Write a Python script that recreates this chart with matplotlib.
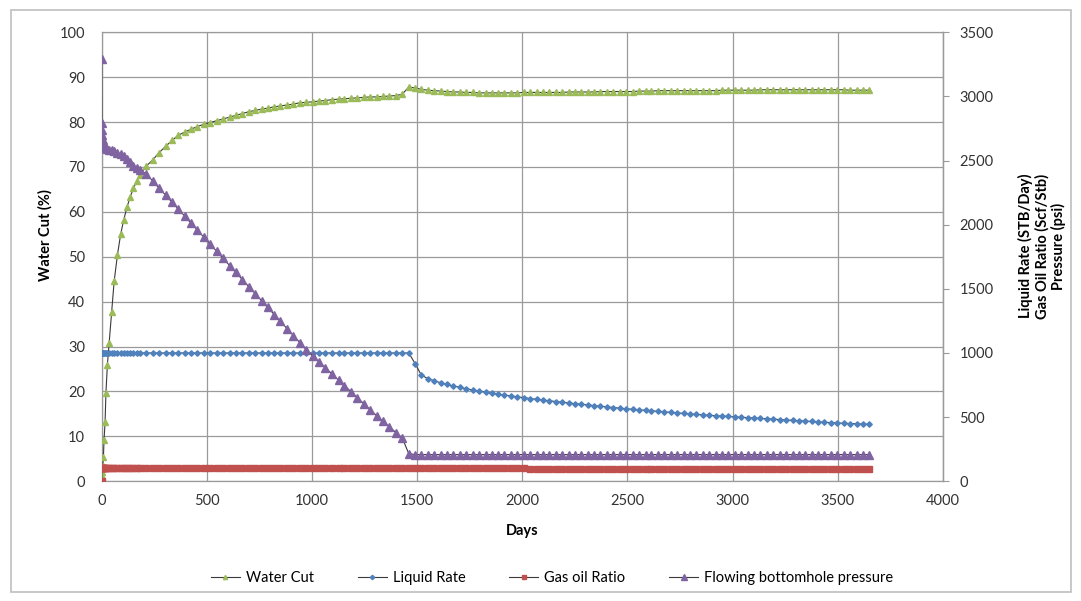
import matplotlib
matplotlib.use("Agg")
from matplotlib import pyplot as plt
from matplotlib.patches import Rectangle

plt.rcParams['font.family'] = ['Lato', 'DejaVu Sans']

# ---- data ----
days = [0, 1, 2, 3, 5, 8, 11, 16, 20, 27, 35, 47, 59, 75, 90, 105, 120, 135, 151, 166, 181,
        212, 243, 273, 304, 334, 365,
        396, 424, 455, 485, 516, 546, 577, 608, 638, 669, 699, 730,
        761, 789, 820, 850, 881, 911, 942, 973, 1003, 1034, 1064, 1095,
        1126, 1154, 1185, 1215, 1246, 1276, 1307, 1338, 1368, 1399, 1429, 1460,
        1491, 1519, 1550, 1580, 1611, 1641, 1672, 1703, 1733, 1764, 1794, 1825,
        1856, 1884, 1915, 1945, 1976, 2006, 2037, 2068, 2098, 2129, 2159, 2190,
        2221, 2249, 2280, 2310, 2341, 2371, 2402, 2433, 2463, 2494, 2524, 2555,
        2586, 2614, 2645, 2675, 2706, 2736, 2767, 2798, 2828, 2859, 2889, 2920,
        2951, 2979, 3010, 3040, 3071, 3101, 3132, 3163, 3193, 3224, 3254, 3285,
        3316, 3344, 3375, 3405, 3436, 3466, 3497, 3528, 3558, 3589, 3619, 3650]

water_cut = [0.0, 0.5, 1.2, 2.1, 3.5, 5.3, 9.2, 13.2, 19.7, 26.0, 30.7, 37.8, 44.5, 50.5, 55.0, 58.3, 61.0, 63.3, 65.3, 66.8, 68.3,
             70.2, 71.6, 73.2, 74.6, 75.9, 77.1,
             77.8, 78.4, 79.0, 79.5, 79.9, 80.3, 80.7, 81.1, 81.5, 81.9, 82.3, 82.6,
             82.9, 83.1, 83.4, 83.6, 83.8, 84.0, 84.3, 84.4, 84.5, 84.7, 84.8, 85.0,
             85.1, 85.2, 85.3, 85.4, 85.5, 85.6, 85.6, 85.7, 85.8, 85.9, 86.2, 87.8,
             87.6, 87.3, 87.1, 87.0, 86.9, 86.8, 86.7, 86.7, 86.6, 86.6, 86.5, 86.5,
             86.5, 86.5, 86.5, 86.5, 86.5, 86.6, 86.6, 86.6, 86.6, 86.6, 86.6, 86.6,
             86.7, 86.7, 86.7, 86.7, 86.7, 86.8, 86.8, 86.8, 86.8, 86.8, 86.8, 86.9,
             86.9, 86.9, 87.0, 87.0, 87.0, 87.0, 87.0, 87.0, 87.0, 87.0, 87.0, 87.0,
             87.1, 87.1, 87.1, 87.1, 87.1, 87.1, 87.2, 87.2, 87.2, 87.2, 87.2, 87.2,
             87.2, 87.2, 87.2, 87.2, 87.2, 87.2, 87.2, 87.2, 87.1, 87.1, 87.1, 87.1]

liquid_rate = [1000, 1000, 1000, 1000, 1000, 1000, 1000, 1000, 1000, 1000, 1000, 1000, 1000, 1000, 1000, 1000, 1000, 1000, 1000, 1000, 1000,
               1000, 1000, 1000, 1000, 1000, 1000,
               1000, 1000, 1000, 1000, 1000, 1000, 1000, 1000, 1000, 1000, 1000, 1000,
               1000, 1000, 1000, 1000, 1000, 1000, 1000, 1000, 1000, 1000, 1000, 1000,
               1000, 1000, 1000, 1000, 1000, 1000, 1000, 1000, 1000, 1000, 1000, 1000,
               915, 830, 800, 785, 768, 755, 743, 732, 722, 711, 702, 694,
               686, 679, 672, 665, 658, 651, 645, 639, 633, 627, 621, 615,
               610, 605, 600, 595, 590, 585, 580, 575, 570, 565, 561, 557,
               553, 549, 545, 541, 537, 533, 529, 525, 521, 518, 514, 511,
               508, 505, 502, 499, 496, 493, 490, 487, 484, 481, 478, 475,
               472, 469, 466, 463, 460, 457, 455, 452, 450, 448, 446, 444]

gas_oil_ratio = [0, 104, 104, 104, 104, 104, 104, 104, 104, 104, 104, 104, 104, 104, 104, 104, 104, 104, 104, 104, 104,
                 104, 104, 104, 104, 104, 104,
                 104, 104, 104, 104, 104, 104, 104, 104, 104, 104, 104, 104,
                 104, 104, 104, 104, 104, 104, 104, 104, 104, 104, 104, 104,
                 104, 104, 104, 104, 104, 104, 104, 104, 104, 104, 104, 106,
                 104, 103, 103, 103, 103, 103, 103, 103, 102, 102, 102, 102,
                 102, 102, 102, 102, 102, 101, 93, 93, 93, 93, 93, 93,
                 93, 93, 93, 93, 93, 93, 93, 93, 93, 93, 93, 93,
                 92, 92, 92, 92, 92, 92, 92, 92, 92, 92, 92, 92,
                 92, 92, 92, 92, 92, 92, 92, 92, 92, 92, 92, 92,
                 92, 92, 92, 92, 92, 92, 92, 92, 92, 92, 92, 92]

bhp = [3290, 2790, 2740, 2700, 2660, 2630, 2612, 2600, 2595, 2590, 2586, 2580, 2572, 2562, 2550, 2535, 2510, 2485, 2460, 2445, 2430,
       2395, 2340, 2285, 2230, 2176, 2120,
       2065, 2014, 1958, 1904, 1848, 1794, 1738, 1682, 1628, 1572, 1518, 1462,
       1406, 1356, 1300, 1246, 1190, 1136, 1080, 1025, 977, 930, 884, 836,
       789, 746, 698, 652, 605, 559, 511, 466, 424, 380, 338, 215,
       208, 208, 208, 208, 208, 208, 208, 208, 208, 208, 208, 208,
       208, 208, 208, 208, 208, 208, 208, 208, 208, 208, 208, 208,
       208, 208, 208, 208, 208, 208, 208, 208, 208, 208, 208, 208,
       208, 208, 208, 208, 208, 208, 208, 208, 208, 208, 208, 208,
       208, 208, 208, 208, 208, 208, 208, 208, 208, 208, 208, 208,
       208, 208, 208, 208, 208, 208, 208, 208, 208, 208, 208, 208]

x_ticks = [0, 500, 1000, 1500, 2000, 2500, 3000, 3500, 4000]
left_ticks = [0, 10, 20, 30, 40, 50, 60, 70, 80, 90, 100]
right_ticks = [0, 500, 1000, 1500, 2000, 2500, 3000, 3500]

# ---- figure ----
fig = plt.figure(figsize=(10.81, 6.01), dpi=100)
fig.patches.append(Rectangle((11 / 1081, 9 / 601), 1060 / 1081, 582 / 601,
                             transform=fig.transFigure, fill=False,
                             edgecolor="#bfbfbf", linewidth=1.2))

ax = fig.add_axes([0.0941, 0.1992, 0.7782, 0.7471])
ax.set_xlim(0, 4000)
ax.set_ylim(0, 100)
ax.set_xticks(x_ticks)
ax.set_yticks(left_ticks)
ax.grid(True, color="#9a9a9a", linewidth=0.9)
ax.set_axisbelow(True)
for s in ax.spines.values():
    s.set_color("#9a9a9a")
    s.set_linewidth(0.9)
ax.tick_params(axis="both", length=0, labelsize=10.5, colors="#333333")
ax.tick_params(axis="y", pad=12)
ax.tick_params(axis="x", pad=9)

line_col = "#3a3a3a"
l1, = ax.plot(days, water_cut, color=line_col, linewidth=0.8, marker="^",
              markersize=3.8, markerfacecolor="#9BBB59", markeredgecolor="#9BBB59",
              label="Water Cut", zorder=3)

ax2 = ax.twinx()
ax2.set_ylim(0, 3500)
ax2.set_yticks(right_ticks)
for s in ax2.spines.values():
    s.set_visible(False)
ax2.spines["right"].set_visible(True)
ax2.spines["right"].set_color("#9a9a9a")
ax2.spines["right"].set_linewidth(0.9)
ax2.tick_params(axis="y", length=4, color="#9a9a9a", labelsize=10.5,
                labelcolor="#333333", pad=8)

l2, = ax2.plot(days, liquid_rate, color=line_col, linewidth=0.8, marker="D",
               markersize=2.8, markerfacecolor="#4F81BD", markeredgecolor="#4F81BD",
               label="Liquid Rate")
l3, = ax2.plot(days, gas_oil_ratio, color=line_col, linewidth=0.8, marker="s",
               markersize=3.7, markerfacecolor="#C0504D", markeredgecolor="#C0504D",
               label="Gas oil Ratio")
l4, = ax2.plot(days, bhp, color=line_col, linewidth=0.8, marker="^",
               markersize=5.5, markerfacecolor="#8064A2", markeredgecolor="#8064A2",
               label="Flowing bottomhole pressure")

fig.text(45 / 1081, 1 - 235 / 601, "Water Cut (%)", rotation=90, ha="center",
         va="center", fontsize=10.5, fontweight="bold")
fig.text(522 / 1081, 1 - 531 / 601, "Days", ha="center", va="center",
         fontsize=10.5, fontweight="bold")
fig.text(1042 / 1081, 1 - 246 / 601,
         "Liquid Rate (STB/Day)\nGas Oil Ratio (Scf/Stb)\nPressure (psi)",
         rotation=90, ha="center", va="center", fontsize=10.5,
         fontweight="bold", multialignment="center", linespacing=1.15)

fig.legend(handles=[l1, l2, l3, l4], loc="center", bbox_to_anchor=(552 / 1081, 1 - 578 / 601),
           ncol=4, frameon=False, fontsize=10.5, handlelength=2.0,
           columnspacing=3.0, handletextpad=0.4, markerscale=0.8)

fig.savefig("out.png", dpi=100)
